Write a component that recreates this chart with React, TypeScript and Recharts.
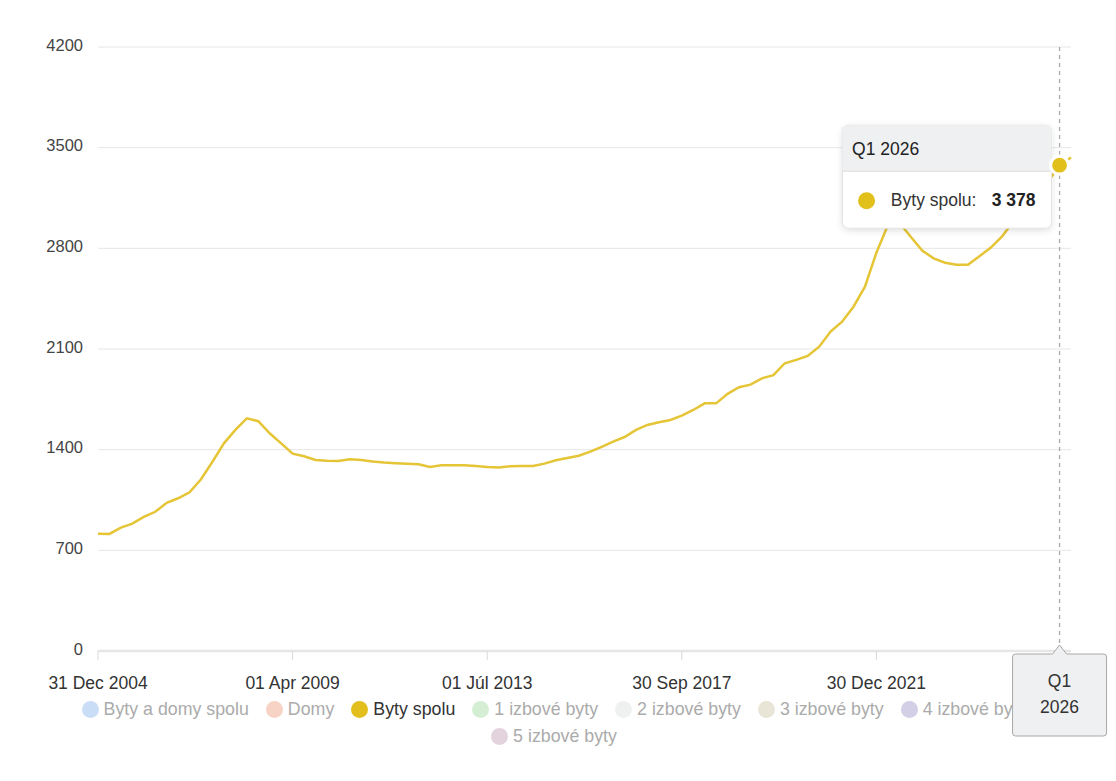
import { CartesianGrid, Legend, Line, LineChart, Tooltip, XAxis, YAxis } from "recharts";

const QUARTERS = [
  "Q1 2005", "Q2 2005", "Q3 2005", "Q4 2005",
  "Q1 2006", "Q2 2006", "Q3 2006", "Q4 2006",
  "Q1 2007", "Q2 2007", "Q3 2007", "Q4 2007",
  "Q1 2008", "Q2 2008", "Q3 2008", "Q4 2008",
  "Q1 2009", "Q2 2009", "Q3 2009", "Q4 2009",
  "Q1 2010", "Q2 2010", "Q3 2010", "Q4 2010",
  "Q1 2011", "Q2 2011", "Q3 2011", "Q4 2011",
  "Q1 2012", "Q2 2012", "Q3 2012", "Q4 2012",
  "Q1 2013", "Q2 2013", "Q3 2013", "Q4 2013",
  "Q1 2014", "Q2 2014", "Q3 2014", "Q4 2014",
  "Q1 2015", "Q2 2015", "Q3 2015", "Q4 2015",
  "Q1 2016", "Q2 2016", "Q3 2016", "Q4 2016",
  "Q1 2017", "Q2 2017", "Q3 2017", "Q4 2017",
  "Q1 2018", "Q2 2018", "Q3 2018", "Q4 2018",
  "Q1 2019", "Q2 2019", "Q3 2019", "Q4 2019",
  "Q1 2020", "Q2 2020", "Q3 2020", "Q4 2020",
  "Q1 2021", "Q2 2021", "Q3 2021", "Q4 2021",
  "Q1 2022", "Q2 2022", "Q3 2022", "Q4 2022",
  "Q1 2023", "Q2 2023", "Q3 2023", "Q4 2023",
  "Q1 2024", "Q2 2024", "Q3 2024", "Q4 2024",
  "Q1 2025", "Q2 2025", "Q3 2025", "Q4 2025",
  "Q1 2026", "Q2 2026",
];

// Byty spolu, one value per quarter
const BYTY_SPOLU = [
  816, 814, 858, 886,
  932, 968, 1030, 1062,
  1104, 1194, 1316, 1444,
  1537, 1618, 1598, 1514,
  1444, 1372, 1354, 1328,
  1323, 1321, 1333, 1328,
  1318, 1311, 1306, 1302,
  1298, 1280, 1292, 1292,
  1291, 1286, 1279, 1276,
  1284, 1286, 1286, 1303,
  1326, 1342, 1358, 1386,
  1420, 1456, 1488, 1537,
  1572, 1590, 1606, 1636,
  1676, 1722, 1722, 1788,
  1834, 1852, 1896, 1918,
  2001, 2024, 2052, 2116,
  2221, 2290, 2394, 2533,
  2770, 2960, 2978, 2880,
  2785, 2730, 2700, 2686,
  2686, 2745, 2805, 2885,
  2990, 3080, 3170, 3265,
  3378, 3432,
];

const TICK_LABELS = [
  { q: "Q1 2005", label: "31 Dec 2004" },
  { q: "Q2 2009", label: "01 Apr 2009" },
  { q: "Q3 2013", label: "01 Júl 2013" },
  { q: "Q4 2017", label: "30 Sep 2017" },
  { q: "Q1 2022", label: "30 Dec 2021" },
];

const Y_TICKS = [0, 700, 1400, 2100, 2800, 3500, 4200];

const SERIES_NAMES = [
  "Byty a domy spolu",
  "Domy",
  "Byty spolu",
  "1 izbové byty",
  "2 izbové byty",
  "3 izbové byty",
  "4 izbové byty",
  "5 izbové byty",
];

const SHOWN = "Byty spolu";
const ACTIVE_QUARTER = "Q1 2026";

const LEGEND_COLORS: Record<string, string> = {
  "Byty a domy spolu": "#c9ddf7",
  Domy: "#f7d3c6",
  "Byty spolu": "#e2bf1c",
  "1 izbové byty": "#d4eed3",
  "2 izbové byty": "#eef1ef",
  "3 izbové byty": "#e8e4d6",
  "4 izbové byty": "#d2cfe6",
  "5 izbové byty": "#e3d3dd",
};

const LINE_COLOR = "#e5c536";
const DOT_COLOR = "#e2c01c";
const FONT = "Arial, 'Liberation Sans', sans-serif";

const data = QUARTERS.map((q, i) => ({ q, v: BYTY_SPOLU[i] }));
const activeIndex = QUARTERS.indexOf(ACTIVE_QUARTER);

function fmt(n: number) {
  return String(n).replace(/\B(?=(\d{3})+(?!\d))/g, " ");
}

function XTick({ x, y, payload }: any) {
  const t = TICK_LABELS.find((t) => t.q === payload.value);
  return (
    <text x={x} y={y} dy={12.3} textAnchor="middle" fill="#333" fontSize={17.5} fontFamily={FONT}>
      {t ? t.label : payload.value}
    </text>
  );
}

function YTick({ x, y, payload }: any) {
  return (
    <text x={x} y={y} dy={3.5} textAnchor="end" fill="#444" fontSize={16.5} fontFamily={FONT}>
      {payload.value}
    </text>
  );
}

// dashed vertical pointer with the boxed quarter label under the axis
function AxisPointer(props: any) {
  const { points, payload, payloadIndex } = props;
  if (!points || points.length < 2) return null;
  const x = points[0].x;
  const top = points[0].y;
  const bottom = points[1].y;
  const row = payload?.[0]?.payload;
  const q: string = row ? row.q : QUARTERS[Number(payloadIndex)] ?? "";
  const [qPart, year] = q.split(" ");
  const w = 94;
  const h = 82;
  const r = 3;
  const bt = bottom + 3;
  const l = x - w / 2;
  const rt = x + w / 2;
  const bb = bt + h;
  const d = `M${l + r},${bt} L${x - 7},${bt} L${x},${bt - 9} L${x + 7},${bt} L${rt - r},${bt} A${r},${r} 0 0 1 ${rt},${bt + r} L${rt},${bb - r} A${r},${r} 0 0 1 ${rt - r},${bb} L${l + r},${bb} A${r},${r} 0 0 1 ${l},${bb - r} L${l},${bt + r} A${r},${r} 0 0 1 ${l + r},${bt} Z`;
  return (
    <g>
      <line x1={x} y1={top} x2={x} y2={bottom - 6} stroke="#aaa" strokeWidth={1.3} strokeDasharray="4 4" />
      <path d={d} fill="#eef0f1" stroke="#a8a8a8" strokeWidth={1} />
      <text x={x} y={bt + 32.7} textAnchor="middle" fill="#333" fontSize={17.5} fontFamily={FONT}>
        {qPart}
      </text>
      <text x={x} y={bt + 59.3} textAnchor="middle" fill="#333" fontSize={17.5} fontFamily={FONT}>
        {year}
      </text>
    </g>
  );
}

// active dot plus the tooltip card next to it
function ActivePoint(props: any) {
  const { cx, cy, payload } = props;
  if (cx == null || cy == null || !payload) return <g />;
  const w = 209;
  const h = 103;
  const left = cx - 8 - w;
  const top = cy - 40;
  const head = `M${left},${top + 46} L${left},${top + 6} A6,6 0 0 1 ${left + 6},${top} L${left + w - 6},${top} A6,6 0 0 1 ${left + w},${top + 6} L${left + w},${top + 46} Z`;
  return (
    <g>
      <defs>
        <filter id="tipShadow" x="-20%" y="-30%" width="140%" height="160%">
          <feDropShadow dx="0" dy="2" stdDeviation="3" floodColor="#000" floodOpacity="0.12" />
        </filter>
      </defs>
      <rect x={left} y={top} width={w} height={h} rx={6} fill="#fff" stroke="#e2e2e2" filter="url(#tipShadow)" />
      <path d={head} fill="#eef0f1" />
      <line x1={left} x2={left + w} y1={top + 46} y2={top + 46} stroke="#dcdcdc" />
      <text x={left + 9.5} y={top + 29.3} fontSize={17.5} fill="#222" fontFamily={FONT}>
        {payload.q}
      </text>
      <circle cx={left + 24} cy={top + 75.5} r={8.5} fill={DOT_COLOR} />
      <text x={left + 48.3} y={top + 81} fontSize={17.5} fill="#333" fontFamily={FONT}>
        {`${SHOWN}:`}
      </text>
      <text x={left + 193} y={top + 81} textAnchor="end" fontSize={17.5} fontWeight="bold" fill="#222" fontFamily={FONT}>
        {fmt(payload.v)}
      </text>
      <circle cx={cx} cy={cy} r={9} fill={DOT_COLOR} stroke="#fff" strokeWidth={3.2} />
    </g>
  );
}

function LegendContent() {
  return (
    <div style={{ height: 60, paddingTop: 4.5, boxSizing: "border-box", fontFamily: FONT }}>
      <div
        style={{
          width: 1000,
          margin: "0 auto",
          display: "flex",
          flexWrap: "wrap",
          justifyContent: "center",
          columnGap: 17,
          lineHeight: "27px",
        }}
      >
        {SERIES_NAMES.map((name) => (
          <span
            key={name}
            style={{
              display: "inline-flex",
              alignItems: "center",
              gap: 5,
              fontSize: 17.8,
              color: name === SHOWN ? "#333" : "#ababab",
            }}
          >
            <span
              style={{
                width: 17,
                height: 17,
                borderRadius: "50%",
                background: LEGEND_COLORS[name],
                display: "inline-block",
              }}
            />
            {name}
          </span>
        ))}
      </div>
    </div>
  );
}

export default function App() {
  return (
    <div style={{ position: "relative", width: 1100, height: 765, fontFamily: FONT, background: "#fff" }}>
      <style>{`.recharts-surface{position:relative;z-index:1}.recharts-legend-wrapper{z-index:0}`}</style>
      <LineChart width={1100} height={745} data={data} margin={{ top: 39, right: 37, bottom: 2, left: 0 }}>
        <CartesianGrid vertical={false} stroke="#e6e6e6" />
        <XAxis
          dataKey="q"
          ticks={TICK_LABELS.map((t) => t.q)}
          interval={0}
          height={40}
          axisLine={{ stroke: "#e6e6e6", strokeWidth: 2.5 }}
          tickLine={{ stroke: "#d9d9d9" }}
          tickSize={9}
          tickMargin={17}
          tick={<XTick />}
        />
        <YAxis
          domain={[0, 4200]}
          ticks={Y_TICKS}
          width={90}
          axisLine={false}
          tickLine={false}
          tickSize={0}
          tickMargin={15}
          tick={<YTick />}
        />
        <Tooltip
          defaultIndex={activeIndex}
          active
          cursor={<AxisPointer />}
          content={() => null}
          isAnimationActive={false}
        />
        <Legend
          verticalAlign="bottom"
          height={60}
          wrapperStyle={{ left: 0, width: 1092 }}
          content={() => <LegendContent />}
        />
        <Line
          type="linear"
          dataKey="v"
          name={SHOWN}
          stroke={LINE_COLOR}
          strokeWidth={2.5}
          dot={false}
          activeDot={(p: any) => <ActivePoint {...p} />}
          isAnimationActive={false}
        />
      </LineChart>
    </div>
  );
}
